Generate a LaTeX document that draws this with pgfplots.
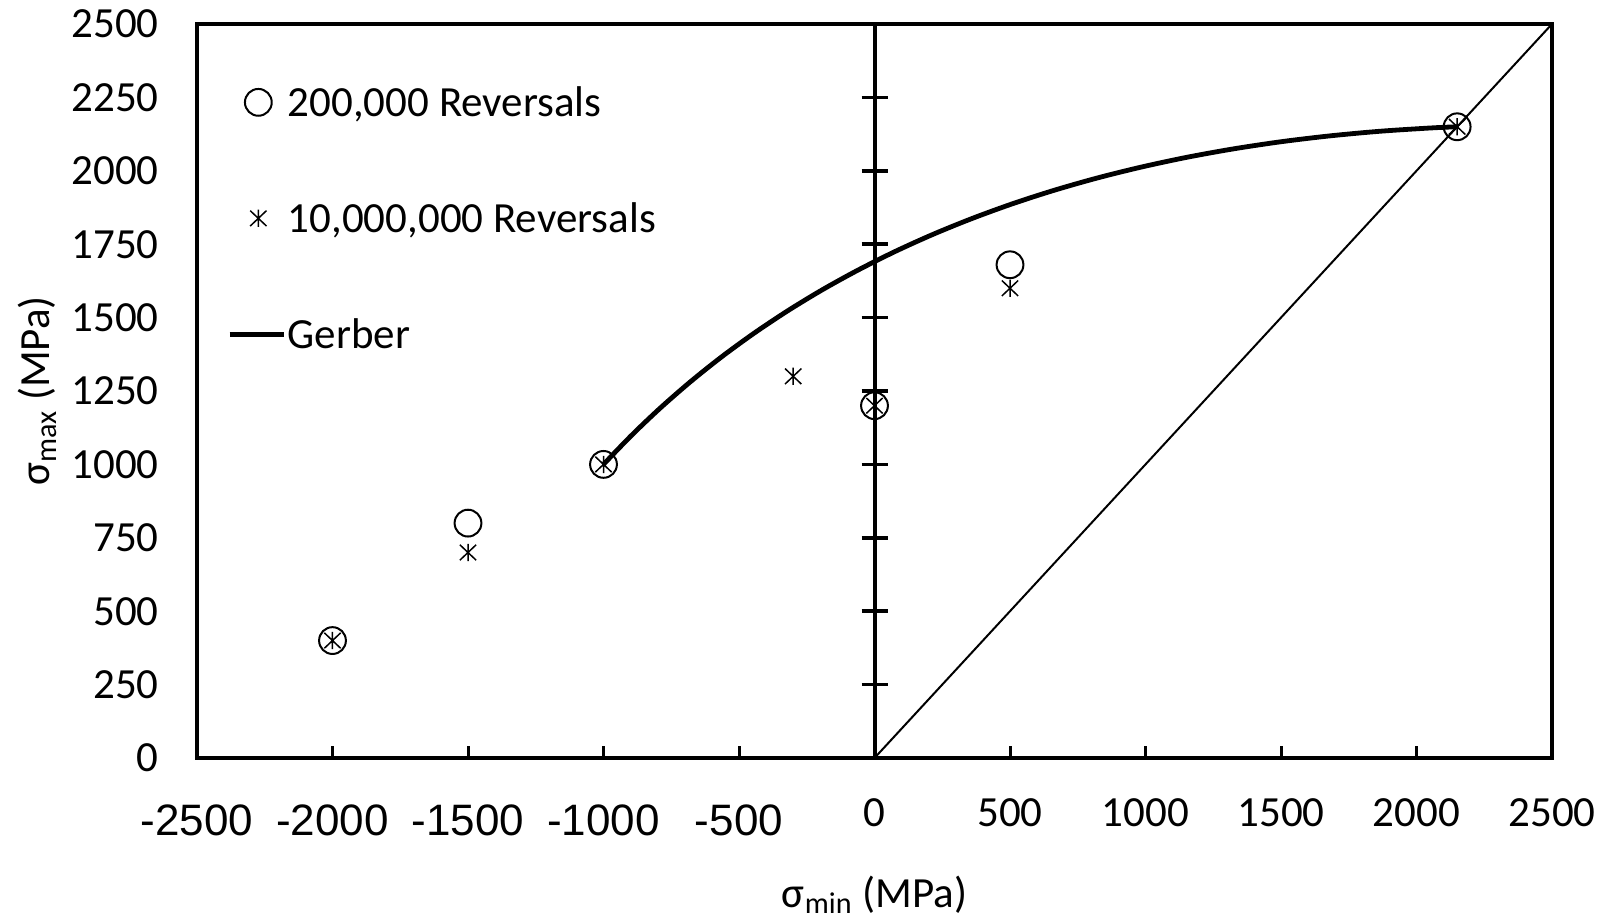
\documentclass[border=0pt]{standalone}
\usepackage{fontspec}
\setmainfont{Carlito}
\newfontfamily\arialf{Liberation Sans}
\usepackage{pgfplots}
\pgfplotsset{compat=1.18}

% six-armed star: one vertical stroke and two diagonals
\pgfdeclareplotmark{xstar}{%
  \pgfpathmoveto{\pgfqpoint{0pt}{\pgfplotmarksize}}%
  \pgfpathlineto{\pgfqpoint{0pt}{-\pgfplotmarksize}}%
  \pgfpathmoveto{\pgfqpoint{-.95\pgfplotmarksize}{.9\pgfplotmarksize}}%
  \pgfpathlineto{\pgfqpoint{.95\pgfplotmarksize}{-.9\pgfplotmarksize}}%
  \pgfpathmoveto{\pgfqpoint{-.95\pgfplotmarksize}{-.9\pgfplotmarksize}}%
  \pgfpathlineto{\pgfqpoint{.95\pgfplotmarksize}{.9\pgfplotmarksize}}%
  \pgfusepathqstroke}

\pgfplotsset{
  markleg/.style={legend image code/.code={\path[draw=none] (0pt,0pt) -- (27.3pt,0pt);
    \draw[##1] plot coordinates {(14.3pt,2.3pt)};}},
  lineleg/.style={legend image code/.code={\draw[##1] (0pt,2.3pt) -- (27.3pt,2.3pt);}},
}

\newcommand\lblfont{\fontsize{21.5}{24}\selectfont}
\newcommand\lowx[1]{\raisebox{-4.2pt}{\arialf\fontsize{22}{24}\selectfont #1}}

\begin{document}
\begin{tikzpicture}
\useasboundingbox (-98.5pt,-82pt) rectangle (704.5pt,379pt);
\begin{axis}[
  scale only axis,
  width=677.5pt, height=367pt,
  xmin=-2500, xmax=2500, ymin=0, ymax=2500,
  axis line style={line width=2pt},
  xtick={-2500,-2000,-1500,-1000,-500,0,500,1000,1500,2000,2500},
  xticklabels={\lowx{-2500},\lowx{-2000},\lowx{-1500},\lowx{-1000},\lowx{-500},0,500,1000,1500,2000,2500},
  ytick={0,250,500,750,1000,1250,1500,1750,2000,2250,2500},
  yticklabels={0,250,500,750,1000,1250,1500,1750,2000,2250,2500},
  tick align=inside,
  major tick length=6pt,
  xtick pos=lower,
  xtick style={line width=1.5pt, black},
  ytick style={draw=none},
  xticklabel style={anchor=base, yshift=-34.3pt, inner sep=0pt, font=\lblfont},
  yticklabel style={anchor=east, xshift=-19pt, inner sep=0pt, font=\lblfont},
  xlabel={σ\textsubscript{min} (MPa)},
  ylabel={σ\textsubscript{max} (MPa)},
  xlabel style={at={([yshift=-74.5pt]axis description cs:0.5,0)}, anchor=base, font=\lblfont},
  ylabel style={at={([xshift=-73.5pt]axis description cs:0,0.5)}, anchor=base, font=\lblfont},
  legend style={at={(0.0221,0.9148)}, anchor=north west, draw=none, fill=none,
    font=\lblfont, row sep=38pt, column sep=0.5pt, inner sep=0pt,
    nodes={inner sep=0pt, text height=15pt, text depth=5pt}},
  legend cell align=left,
  clip=false,
]
% constant-ratio line sigma_min = sigma_max
\addplot[line width=1pt, forget plot] coordinates {(0,0) (2500,2500)};

% Gerber envelope, Se = 1000 MPa, Su = 2150 MPa
\addplot[line width=2.4pt, smooth, forget plot] coordinates {
  (-1000,1000) (-897.8,1097.8) (-791.3,1191.3) (-680.5,1280.5)
  (-565.4,1365.4) (-445.9,1445.9) (-322.1,1522.1) (-194.0,1594.0)
  (-61.5,1661.5) (75.2,1724.8) (216.3,1783.7) (361.8,1838.2)
  (511.5,1888.5) (665.6,1934.4) (824.0,1976.0) (986.8,2013.2)
  (1153.8,2046.2) (1325.2,2074.8) (1500.9,2099.1) (1681.0,2119.0)
  (1865.3,2134.7) (2054.0,2146.0) (2150,2150)};

% vertical axis through sigma_min = 0 with cross ticks
\draw[line width=2pt, black] (axis cs:0,0) -- (axis cs:0,2500);
\draw[line width=1.8pt, black]
  ([xshift=-6.5pt]axis cs:0,250)  -- ([xshift=6.5pt]axis cs:0,250)
  ([xshift=-6.5pt]axis cs:0,500)  -- ([xshift=6.5pt]axis cs:0,500)
  ([xshift=-6.5pt]axis cs:0,750)  -- ([xshift=6.5pt]axis cs:0,750)
  ([xshift=-6.5pt]axis cs:0,1000) -- ([xshift=6.5pt]axis cs:0,1000)
  ([xshift=-6.5pt]axis cs:0,1250) -- ([xshift=6.5pt]axis cs:0,1250)
  ([xshift=-6.5pt]axis cs:0,1500) -- ([xshift=6.5pt]axis cs:0,1500)
  ([xshift=-6.5pt]axis cs:0,1750) -- ([xshift=6.5pt]axis cs:0,1750)
  ([xshift=-6.5pt]axis cs:0,2000) -- ([xshift=6.5pt]axis cs:0,2000)
  ([xshift=-6.5pt]axis cs:0,2250) -- ([xshift=6.5pt]axis cs:0,2250);

\addlegendimage{only marks, mark=o, mark size=6.7pt, mark options={line width=1pt}, markleg}
\addlegendentry{200,000 Reversals}
\addlegendimage{only marks, mark=xstar, mark size=4.3pt, mark options={line width=0.75pt}, markleg}
\addlegendentry{10,000,000 Reversals}
\addlegendimage{line width=2.4pt, lineleg}
\addlegendentry{Gerber}

% 200,000 reversals
\addplot[only marks, mark=o, mark size=6.7pt, mark options={line width=1pt}, forget plot]
  coordinates {(-2000,400) (-1500,800) (-1000,1000) (0,1200) (500,1680) (2150,2150)};
% 10,000,000 reversals
\addplot[only marks, mark=xstar, mark size=4.3pt, mark options={line width=0.75pt}, forget plot]
  coordinates {(-2000,400) (-1500,700) (-1000,1000) (-300,1300) (0,1200) (500,1600) (2150,2150)};
\end{axis}
\end{tikzpicture}
\end{document}
